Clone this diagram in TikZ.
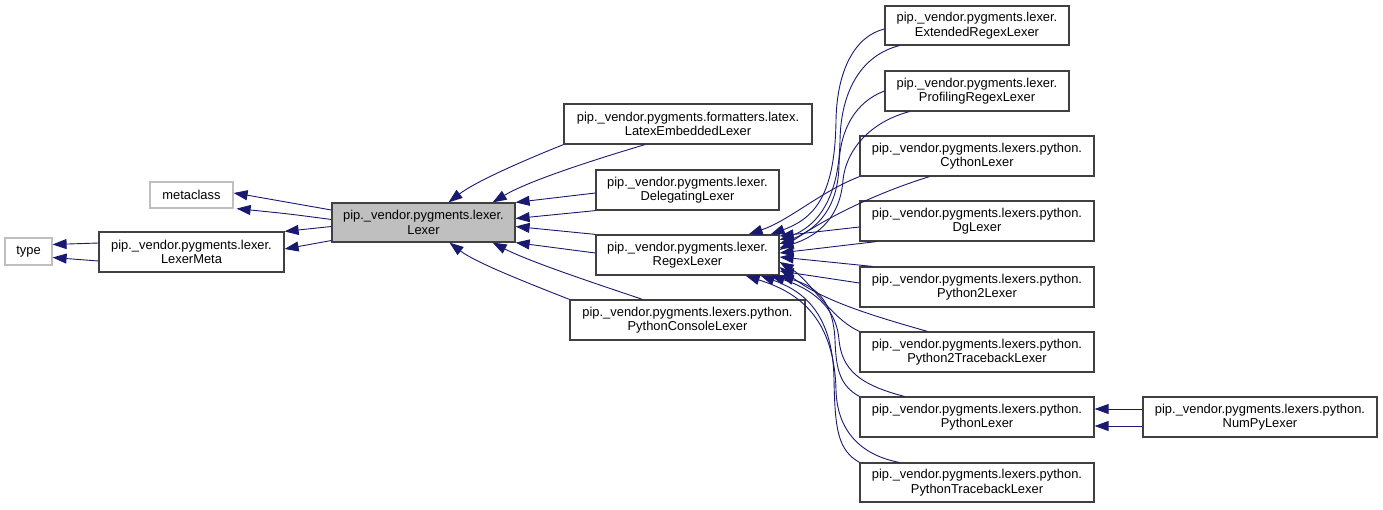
\documentclass[tikz,border=0pt]{standalone}
\usepackage{fontspec}
\setmainfont{Liberation Sans}
\usepackage{xcolor}
\usepackage{tikz}
\usetikzlibrary{arrows.meta}
\definecolor{edgeBlue}{RGB}{25,25,112}
\definecolor{boxGray}{RGB}{191,191,191}
\definecolor{frameDark}{RGB}{64,64,64}
\tikzset{
  clsbox/.style={
    rectangle, draw=frameDark, line width=1.2pt, fill=white, inner sep=0pt,
    align=center, font=\fontsize{12.9}{14.5}\selectfont, minimum height=40pt
  },
  extbox/.style={clsbox, draw=boxGray, minimum height=27pt},
  focusbox/.style={clsbox, fill=boxGray},
  inhArrow/.style={-{Triangle[length=14pt,width=10pt,fill=edgeBlue]}, line width=0.9pt, draw=edgeBlue}
}

\begin{document}
\begin{tikzpicture}[x=1pt, y=-1pt]
  \useasboundingbox (0,0) rectangle (1383,509);
  % base classes
  \node[extbox, minimum width=47pt] (type) at (28.5,251.5) {type};
  \node[extbox, minimum width=83pt, minimum height=26pt] (metacls) at (191.5,195) {metaclass};
  \node[clsbox, minimum width=185pt] (lexmeta) at (191.5,252) {pip.\_vendor.pygments.lexer.\\LexerMeta};
  \node[focusbox, minimum width=183pt, minimum height=39pt] (lexer) at (423.5,222.5) {pip.\_vendor.pygments.lexer.\\Lexer};
  % direct subclasses
  \node[clsbox, minimum width=248pt] (latex) at (688,124) {pip.\_vendor.pygments.formatters.latex.\\LatexEmbeddedLexer};
  \node[clsbox, minimum width=183pt] (deleg) at (687.5,190) {pip.\_vendor.pygments.lexer.\\DelegatingLexer};
  \node[clsbox, minimum width=183pt] (regex) at (687.5,255) {pip.\_vendor.pygments.lexer.\\RegexLexer};
  \node[clsbox, minimum width=235pt] (console) at (687.5,320) {pip.\_vendor.pygments.lexers.python.\\PythonConsoleLexer};
  % regex subclasses
  \node[clsbox, minimum width=184pt, minimum height=39pt] (extreg) at (977,25.5) {pip.\_vendor.pygments.lexer.\\ExtendedRegexLexer};
  \node[clsbox, minimum width=184pt] (profreg) at (977,91) {pip.\_vendor.pygments.lexer.\\ProfilingRegexLexer};
  \node[clsbox, minimum width=234pt] (cython) at (977,156) {pip.\_vendor.pygments.lexers.python.\\CythonLexer};
  \node[clsbox, minimum width=234pt] (dg) at (977,221) {pip.\_vendor.pygments.lexers.python.\\DgLexer};
  \node[clsbox, minimum width=234pt] (py2) at (977,287) {pip.\_vendor.pygments.lexers.python.\\Python2Lexer};
  \node[clsbox, minimum width=234pt] (py2tb) at (977,352) {pip.\_vendor.pygments.lexers.python.\\Python2TracebackLexer};
  \node[clsbox, minimum width=234pt] (pylex) at (977,417) {pip.\_vendor.pygments.lexers.python.\\PythonLexer};
  \node[clsbox, minimum width=234pt, minimum height=39pt] (pytb) at (977,482.5) {pip.\_vendor.pygments.lexers.python.\\PythonTracebackLexer};
  \node[clsbox, minimum width=234pt] (numpy) at (1260,417) {pip.\_vendor.pygments.lexers.python.\\NumPyLexer};

  % left part
  \draw[inhArrow] ([yshift=9pt]lexmeta.west) -- ([yshift=7pt]type.east);
  \draw[inhArrow] ([yshift=-9pt]lexmeta.west) -- ([yshift=-6pt]type.east);
  \draw[inhArrow] ([yshift=12.5pt]lexer.west) .. controls (290,202) .. ([yshift=2pt]metacls.east);
  \draw[inhArrow] ([yshift=3pt]lexer.west) .. controls (290,214) .. ([xshift=3pt]metacls.south east);
  \draw[inhArrow] ([yshift=-4pt]lexer.west) -- (lexmeta.north east);
  \draw[inhArrow] ([yshift=-18pt]lexer.west) -- ([yshift=3pt]lexmeta.east);

  % into Lexer
  \draw[inhArrow] (latex.south west) .. controls (520,162) and (475,182) .. ([xshift=25pt]lexer.north);
  \draw[inhArrow] ([xshift=-43pt]latex.south) .. controls (600,158) and (530,180) .. ([xshift=-23pt]lexer.north east);
  \draw[inhArrow] ([yshift=-3pt]deleg.west) -- (lexer.north east);
  \draw[inhArrow] (deleg.south west) -- ([yshift=4pt]lexer.east);
  \draw[inhArrow] (regex.north west) -- ([yshift=-4pt]lexer.east);
  \draw[inhArrow] ([yshift=2pt]regex.west) -- (lexer.south east);
  \draw[inhArrow] (console.north west) .. controls (520,280) and (475,262) .. ([xshift=26pt]lexer.south);
  \draw[inhArrow] ([xshift=-45pt]console.north) .. controls (600,285) and (530,262) .. ([xshift=-23pt]lexer.south east);

  % into RegexLexer
  \draw[inhArrow] ([yshift=-3.5pt]extreg.west) .. controls (855,36) and (837,70) .. (836,120)
        .. controls (835,195) and (815,218) .. ([xshift=-9pt]regex.north east);
  \draw[inhArrow] ([xshift=15pt]extreg.south west) .. controls (862,55) and (841,90) .. (840,140)
        .. controls (839,205) and (812,228) .. ([yshift=15pt]regex.east);
  \draw[inhArrow] (profreg.west) .. controls (855,102) and (840,130) .. (839,165)
        .. controls (838,215) and (810,232) .. ([yshift=11pt]regex.east);
  \draw[inhArrow] ([xshift=25pt]profreg.south west) .. controls (870,122) and (846,150) .. (843,180)
        .. controls (840,222) and (812,238) .. ([yshift=7pt]regex.east);
  \draw[inhArrow] (cython.south west) .. controls (820,192) and (790,220) .. ([xshift=-31pt]regex.north east);
  \draw[inhArrow] ([xshift=70pt]cython.south west) .. controls (880,192) and (830,215) .. ([yshift=5pt]regex.east);
  \draw[inhArrow] ([yshift=-6pt]dg.west) -- ([yshift=19pt]regex.east);
  \draw[inhArrow] ([xshift=17pt]dg.south west) -- ([yshift=2pt]regex.east);
  \draw[inhArrow] ([xshift=13pt]py2.north west) -- ([yshift=-2pt]regex.east);
  \draw[inhArrow] ([yshift=4pt]py2.west) -- ([yshift=-16pt]regex.east);
  \draw[inhArrow] (py2tb.north west) .. controls (830,318) and (810,280) .. ([yshift=-7pt]regex.east);
  \draw[inhArrow] ([xshift=68pt]py2tb.north west) .. controls (870,315) and (820,300) .. ([yshift=-12pt]regex.east);
  \draw[inhArrow] (pylex.north west) .. controls (838,385) and (836,365) .. (835,340)
        .. controls (833,295) and (810,285) .. (regex.south east);
  \draw[inhArrow] ([xshift=45pt]pylex.north west) .. controls (860,385) and (842,370) .. (839,340)
        .. controls (836,300) and (800,285) .. ([xshift=-9pt]regex.south east);
  \draw[inhArrow] (pytb.north west) .. controls (838,450) and (835,430) .. (834,380)
        .. controls (833,310) and (800,290) .. ([xshift=-19pt]regex.south east);
  \draw[inhArrow] ([xshift=40pt]pytb.north west) .. controls (860,455) and (837,430) .. (836,390)
        .. controls (834,310) and (790,290) .. ([xshift=-34pt]regex.south east);

  % NumPyLexer
  \draw[inhArrow] ([yshift=8pt]numpy.west) -- ([yshift=8pt]pylex.east);
  \draw[inhArrow] ([yshift=-9pt]numpy.west) -- ([yshift=-9pt]pylex.east);
\end{tikzpicture}
\end{document}
